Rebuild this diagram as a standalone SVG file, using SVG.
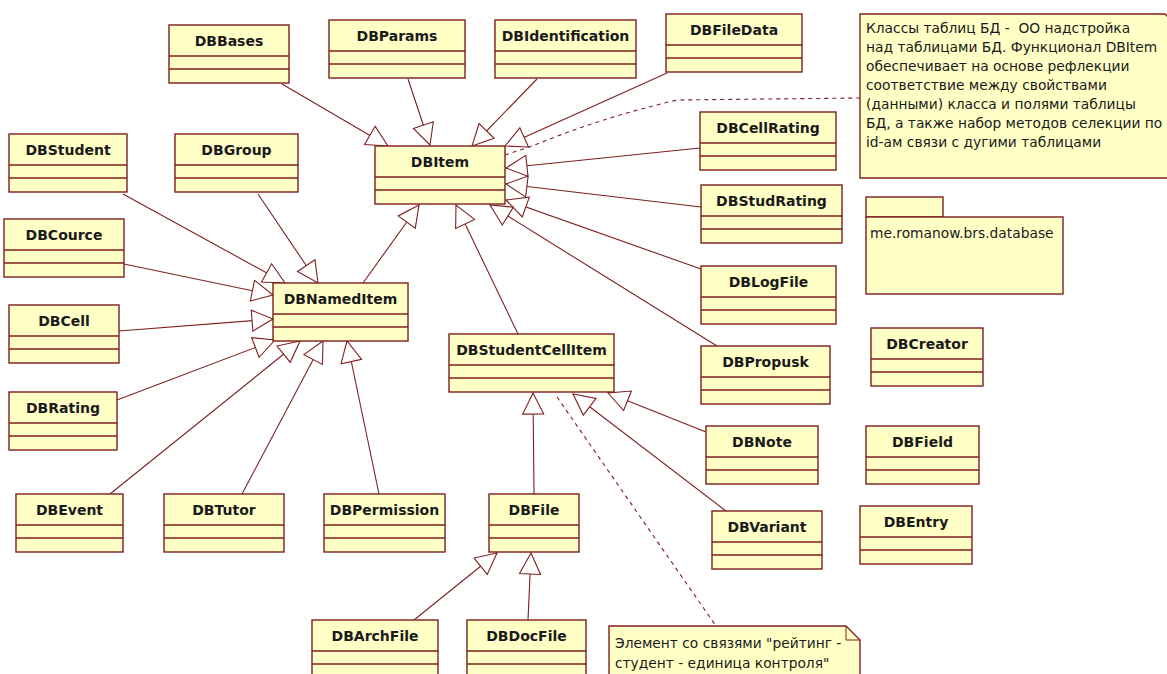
<svg xmlns="http://www.w3.org/2000/svg" width="1167" height="674" viewBox="0 0 1167 674">
  <style>
    .box { fill: #ffffc6; stroke: #7f1f1f; stroke-width: 1.4; }
    .sep { stroke: #7f1f1f; stroke-width: 1.4; }
    .name { font-family: "DejaVu Sans", "Liberation Sans", sans-serif; font-weight: bold; font-size: 14px; fill: #1a1a1a; text-anchor: middle; }
    .txt { font-family: "DejaVu Sans", "Liberation Sans", "Noto Sans", sans-serif; font-size: 13.8px; fill: #1a1a1a; white-space: pre; }
    .gen { stroke: #7f1f1f; stroke-width: 1.1; fill: none; marker-end: url(#tri); }
    .dash { stroke: #7f1f1f; stroke-width: 1.1; fill: none; stroke-dasharray: 4 4; }
  </style>
  <defs>
    <marker id="tri" markerUnits="userSpaceOnUse" markerWidth="26" markerHeight="26" viewBox="-24 -13 26 26" refX="0" refY="0" orient="auto">
      <path d="M0,0 L-21,-10.5 L-21,10.5 Z" fill="#ffffff" stroke="#7f1f1f" stroke-width="1.1"/>
    </marker>
  </defs>
  <rect width="1167" height="674" fill="#ffffff"/>

  <!-- generalization and note links -->
  <g id="connectors">
    <line class="gen" x1="282" y1="84" x2="388" y2="146"/>
    <line class="gen" x1="408" y1="79" x2="430" y2="145"/>
    <line class="gen" x1="537" y1="79" x2="472" y2="146"/>
    <line class="gen" x1="667" y1="73" x2="505" y2="146"/>
    <line class="gen" x1="700" y1="148" x2="506" y2="168"/>
    <line class="gen" x1="701" y1="207" x2="506" y2="184"/>
    <line class="gen" x1="701" y1="269" x2="506" y2="200"/>
    <line class="gen" x1="717" y1="346" x2="490" y2="205"/>
    <line class="gen" x1="363" y1="283" x2="419" y2="205"/>
    <line class="gen" x1="518" y1="334" x2="456" y2="205"/>

    <line class="gen" x1="123" y1="194" x2="285" y2="283"/>
    <line class="gen" x1="258" y1="194" x2="318" y2="283"/>
    <line class="gen" x1="124" y1="264" x2="273" y2="295"/>
    <line class="gen" x1="119" y1="331" x2="273" y2="319"/>
    <line class="gen" x1="117" y1="400" x2="275" y2="340"/>
    <line class="gen" x1="110" y1="494" x2="300" y2="341"/>
    <line class="gen" x1="242" y1="494" x2="323" y2="341"/>
    <line class="gen" x1="379" y1="494" x2="347" y2="341"/>

    <line class="gen" x1="534" y1="494" x2="533" y2="393"/>
    <line class="gen" x1="706" y1="432" x2="608" y2="393"/>
    <line class="gen" x1="726" y1="511" x2="573" y2="394"/>

    <line class="gen" x1="414" y1="620" x2="497" y2="553"/>
    <line class="gen" x1="528" y1="620" x2="531" y2="553"/>

    <path class="dash" d="M505,155 L535,145 Q600,118 677,100 L860,98"/>
    <path class="dash" d="M557,397 L716,626"/>
  </g>

  <!-- classes -->
  <g id="DBBases"><rect class="box" x="169" y="25" width="120" height="58"/><line class="sep" x1="169" y1="56" x2="289" y2="56"/><line class="sep" x1="169" y1="69" x2="289" y2="69"/><text class="name" x="229" y="46">DBBases</text></g>
  <g id="DBParams"><rect class="box" x="329" y="20" width="136" height="58"/><line class="sep" x1="329" y1="51" x2="465" y2="51"/><line class="sep" x1="329" y1="64" x2="465" y2="64"/><text class="name" x="397" y="41">DBParams</text></g>
  <g id="DBIdentification"><rect class="box" x="495" y="20" width="141" height="58"/><line class="sep" x1="495" y1="51" x2="636" y2="51"/><line class="sep" x1="495" y1="64" x2="636" y2="64"/><text class="name" x="565.5" y="41">DBIdentification</text></g>
  <g id="DBFileData"><rect class="box" x="666" y="14" width="136" height="58"/><line class="sep" x1="666" y1="45" x2="802" y2="45"/><line class="sep" x1="666" y1="58" x2="802" y2="58"/><text class="name" x="734" y="35">DBFileData</text></g>
  <g id="DBStudent"><rect class="box" x="9" y="134" width="118" height="58"/><line class="sep" x1="9" y1="165" x2="127" y2="165"/><line class="sep" x1="9" y1="178" x2="127" y2="178"/><text class="name" x="68" y="155">DBStudent</text></g>
  <g id="DBGroup"><rect class="box" x="175" y="134" width="123" height="58"/><line class="sep" x1="175" y1="165" x2="298" y2="165"/><line class="sep" x1="175" y1="178" x2="298" y2="178"/><text class="name" x="236.5" y="155">DBGroup</text></g>
  <g id="DBItem"><rect class="box" x="375" y="146" width="130" height="58"/><line class="sep" x1="375" y1="177" x2="505" y2="177"/><line class="sep" x1="375" y1="190" x2="505" y2="190"/><text class="name" x="440" y="167">DBItem</text></g>
  <g id="DBCellRating"><rect class="box" x="700" y="112" width="136" height="58"/><line class="sep" x1="700" y1="143" x2="836" y2="143"/><line class="sep" x1="700" y1="156" x2="836" y2="156"/><text class="name" x="768" y="133">DBCellRating</text></g>
  <g id="DBStudRating"><rect class="box" x="701" y="185" width="141" height="58"/><line class="sep" x1="701" y1="216" x2="842" y2="216"/><line class="sep" x1="701" y1="229" x2="842" y2="229"/><text class="name" x="771.5" y="206">DBStudRating</text></g>
  <g id="DBCource"><rect class="box" x="4" y="219" width="120" height="58"/><line class="sep" x1="4" y1="250" x2="124" y2="250"/><line class="sep" x1="4" y1="263" x2="124" y2="263"/><text class="name" x="64" y="240">DBCource</text></g>
  <g id="DBNamedItem"><rect class="box" x="273" y="283" width="135" height="58"/><line class="sep" x1="273" y1="314" x2="408" y2="314"/><line class="sep" x1="273" y1="327" x2="408" y2="327"/><text class="name" x="340.5" y="304">DBNamedItem</text></g>
  <g id="DBLogFile"><rect class="box" x="701" y="266" width="135" height="58"/><line class="sep" x1="701" y1="297" x2="836" y2="297"/><line class="sep" x1="701" y1="310" x2="836" y2="310"/><text class="name" x="768.5" y="287">DBLogFile</text></g>
  <g id="DBCell"><rect class="box" x="9" y="305" width="110" height="58"/><line class="sep" x1="9" y1="336" x2="119" y2="336"/><line class="sep" x1="9" y1="349" x2="119" y2="349"/><text class="name" x="64" y="326">DBCell</text></g>
  <g id="DBStudentCellItem"><rect class="box" x="449" y="334" width="165" height="58"/><line class="sep" x1="449" y1="365" x2="614" y2="365"/><line class="sep" x1="449" y1="378" x2="614" y2="378"/><text class="name" x="531.5" y="355">DBStudentCellItem</text></g>
  <g id="DBPropusk"><rect class="box" x="701" y="346" width="129" height="58"/><line class="sep" x1="701" y1="377" x2="830" y2="377"/><line class="sep" x1="701" y1="390" x2="830" y2="390"/><text class="name" x="765.5" y="367">DBPropusk</text></g>
  <g id="DBCreator"><rect class="box" x="871" y="328" width="112" height="58"/><line class="sep" x1="871" y1="359" x2="983" y2="359"/><line class="sep" x1="871" y1="372" x2="983" y2="372"/><text class="name" x="927" y="349">DBCreator</text></g>
  <g id="DBRating"><rect class="box" x="9" y="392" width="108" height="58"/><line class="sep" x1="9" y1="423" x2="117" y2="423"/><line class="sep" x1="9" y1="436" x2="117" y2="436"/><text class="name" x="63" y="413">DBRating</text></g>
  <g id="DBNote"><rect class="box" x="706" y="426" width="112" height="58"/><line class="sep" x1="706" y1="457" x2="818" y2="457"/><line class="sep" x1="706" y1="470" x2="818" y2="470"/><text class="name" x="762" y="447">DBNote</text></g>
  <g id="DBField"><rect class="box" x="866" y="426" width="113" height="58"/><line class="sep" x1="866" y1="457" x2="979" y2="457"/><line class="sep" x1="866" y1="470" x2="979" y2="470"/><text class="name" x="922.5" y="447">DBField</text></g>
  <g id="DBEvent"><rect class="box" x="16" y="494" width="107" height="58"/><line class="sep" x1="16" y1="525" x2="123" y2="525"/><line class="sep" x1="16" y1="538" x2="123" y2="538"/><text class="name" x="69.5" y="515">DBEvent</text></g>
  <g id="DBTutor"><rect class="box" x="164" y="494" width="120" height="58"/><line class="sep" x1="164" y1="525" x2="284" y2="525"/><line class="sep" x1="164" y1="538" x2="284" y2="538"/><text class="name" x="224" y="515">DBTutor</text></g>
  <g id="DBPermission"><rect class="box" x="324" y="494" width="121" height="58"/><line class="sep" x1="324" y1="525" x2="445" y2="525"/><line class="sep" x1="324" y1="538" x2="445" y2="538"/><text class="name" x="384.5" y="515">DBPermission</text></g>
  <g id="DBFile"><rect class="box" x="489" y="494" width="90" height="58"/><line class="sep" x1="489" y1="525" x2="579" y2="525"/><line class="sep" x1="489" y1="538" x2="579" y2="538"/><text class="name" x="534" y="515">DBFile</text></g>
  <g id="DBVariant"><rect class="box" x="712" y="511" width="110" height="58"/><line class="sep" x1="712" y1="542" x2="822" y2="542"/><line class="sep" x1="712" y1="555" x2="822" y2="555"/><text class="name" x="767" y="532">DBVariant</text></g>
  <g id="DBEntry"><rect class="box" x="860" y="506" width="112" height="58"/><line class="sep" x1="860" y1="537" x2="972" y2="537"/><line class="sep" x1="860" y1="550" x2="972" y2="550"/><text class="name" x="916" y="527">DBEntry</text></g>
  <g id="DBArchFile"><rect class="box" x="312" y="620" width="126" height="70"/><line class="sep" x1="312" y1="651" x2="438" y2="651"/><line class="sep" x1="312" y1="664" x2="438" y2="664"/><text class="name" x="375" y="641">DBArchFile</text></g>
  <g id="DBDocFile"><rect class="box" x="467" y="620" width="119" height="70"/><line class="sep" x1="467" y1="651" x2="586" y2="651"/><line class="sep" x1="467" y1="664" x2="586" y2="664"/><text class="name" x="526.5" y="641">DBDocFile</text></g>

  <!-- package -->
  <g id="package">
    <rect class="box" x="866" y="197" width="77" height="20"/>
    <rect class="box" x="866" y="217" width="197" height="77"/>
    <text class="txt" x="870" y="238">me.romanow.brs.database</text>
  </g>

  <!-- notes -->
  <g id="note-tables">
    <path class="box" d="M860,14 H1165 L1180,29 V178 H860 Z"/>
    <text class="txt" x="866" y="33" xml:space="preserve">Классы таблиц БД -  ОО надстройка</text>
    <text class="txt" x="866" y="52">над таблицами БД. Функционал DBItem</text>
    <text class="txt" x="866" y="71">обеспечивает на основе рефлекции</text>
    <text class="txt" x="866" y="90">соответствие между свойствами</text>
    <text class="txt" x="866" y="109">(данными) класса и полями таблицы</text>
    <text class="txt" x="866" y="128">БД, а также набор методов селекции по</text>
    <text class="txt" x="866" y="147">id-ам связи с дугими таблицами</text>
  </g>
  <g id="note-cell">
    <path class="box" d="M609,626 H846 L860,640 V690 H609 Z"/>
    <path d="M846,626 V640 H860" fill="none" stroke="#7f1f1f" stroke-width="1"/>
    <text class="txt" x="615" y="648">Элемент со связями "рейтинг -</text>
    <text class="txt" x="615" y="668">студент - единица контроля"</text>
  </g>
</svg>
